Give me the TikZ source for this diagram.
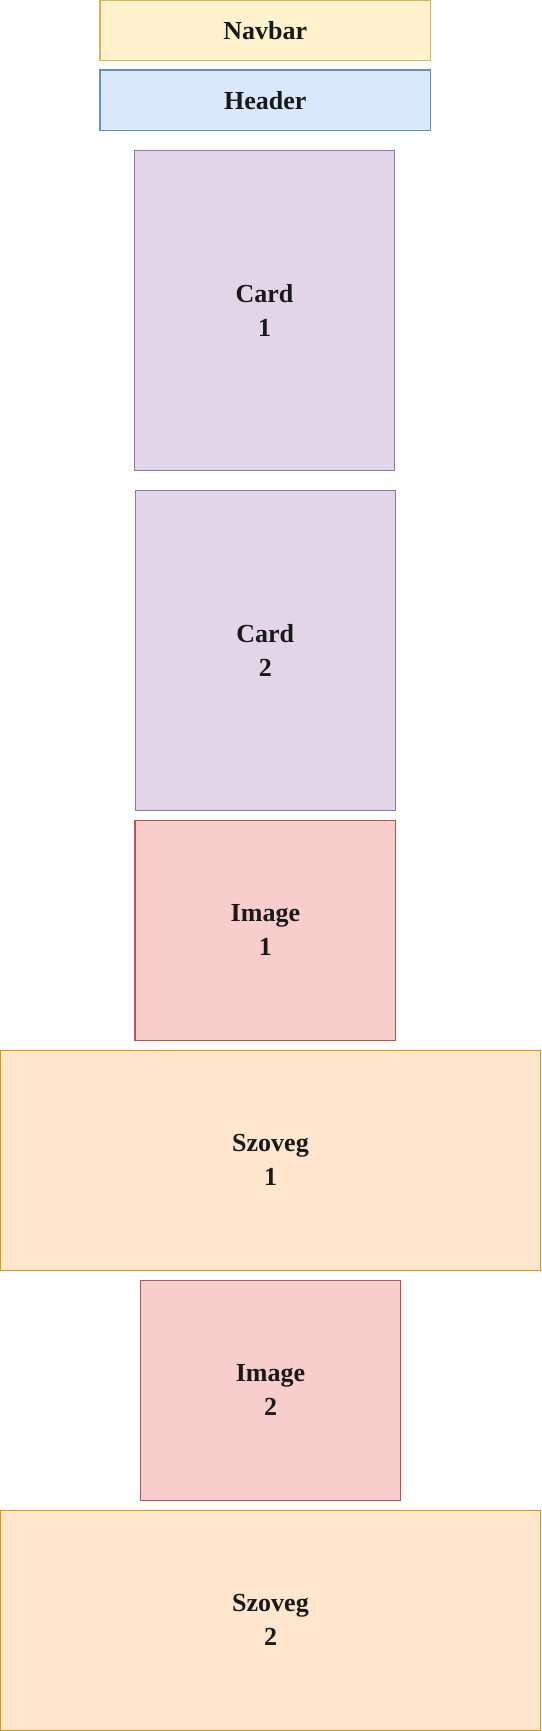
\documentclass[tikz,border=0pt]{standalone}
\usepackage{fontspec}
\setmainfont{Liberation Serif}
\definecolor{yfill}{HTML}{FFF2CC}\definecolor{ydraw}{HTML}{D6B656}
\definecolor{bfill}{HTML}{DAE8FC}\definecolor{bdraw}{HTML}{6C8EBF}
\definecolor{pfill}{HTML}{E1D5E7}\definecolor{pdraw}{HTML}{9673A6}
\definecolor{rfill}{HTML}{F8CECC}\definecolor{rdraw}{HTML}{B85450}
\definecolor{ofill}{HTML}{FFE6CC}\definecolor{odraw}{HTML}{D79B00}
\tikzset{
  blk/.style={draw, line width=1.1pt, inner sep=0pt, outer sep=0pt, align=center,
    font=\bfseries\fontsize{26}{34}\selectfont, text=black!90},
  navstyle/.style={blk, fill=yfill, draw=ydraw},
  headstyle/.style={blk, fill=bfill, draw=bdraw},
  cardstyle/.style={blk, fill=pfill, draw=pdraw},
  imgstyle/.style={blk, fill=rfill, draw=rdraw},
  txtstyle/.style={blk, fill=ofill, draw=odraw}
}
\begin{document}
\begin{tikzpicture}[x=1pt,y=-1pt]
\useasboundingbox (0,0) rectangle (541,1731);
\node[navstyle, minimum width=330.5pt, minimum height=60pt] (navbar) at (265.25,30.5) {Navbar};
\node[headstyle, minimum width=330.5pt, minimum height=60.3pt] (header) at (265.25,100.15) {Header};
\node[cardstyle, minimum width=260.4pt, minimum height=320pt] (card1) at (264.5,310.3) {Card\\1};
\node[cardstyle, minimum width=260pt, minimum height=320pt] (card2) at (265.3,650.3) {Card\\2};
\node[imgstyle, minimum width=260.8pt, minimum height=220pt] (image1) at (265.4,930.3) {Image\\1};
\node[txtstyle, minimum width=540pt, minimum height=220pt] (szoveg1) at (270.5,1160.3) {Szoveg\\1};
\node[imgstyle, minimum width=260.2pt, minimum height=220pt] (image2) at (270.5,1390.3) {Image\\2};
\node[txtstyle, minimum width=540pt, minimum height=220pt] (szoveg2) at (270.5,1620.3) {Szoveg\\2};
\end{tikzpicture}
\end{document}
